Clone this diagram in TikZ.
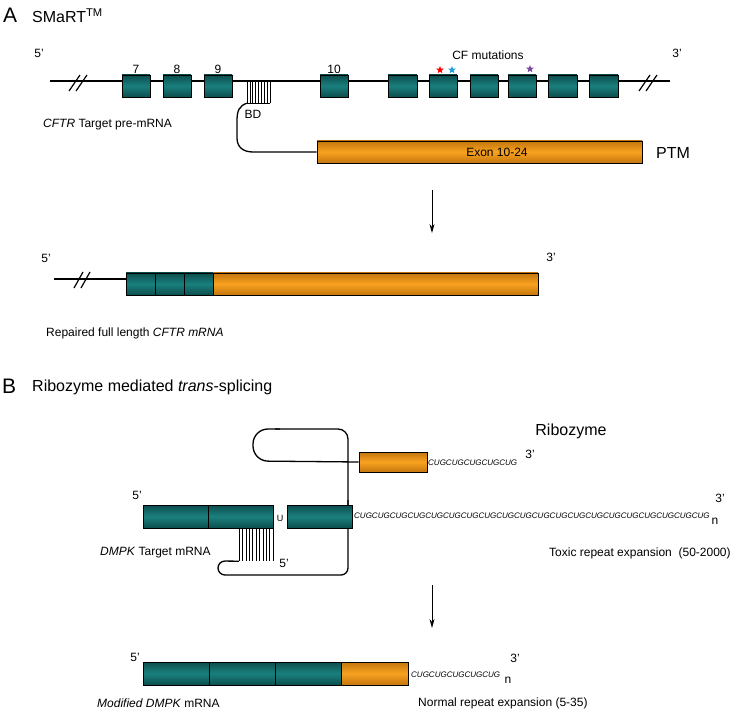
\documentclass[tikz,border=0pt]{standalone}
\usepackage{fontspec}
\setmainfont{Liberation Sans}
\usetikzlibrary{shapes.geometric,arrows.meta}
\definecolor{tealL}{RGB}{26,128,125}
\definecolor{tealD}{RGB}{12,78,78}
\definecolor{orgL}{RGB}{248,162,32}
\definecolor{orgD}{RGB}{196,118,14}
\definecolor{starblue}{RGB}{30,160,220}
\definecolor{starpurple}{RGB}{120,70,160}
\tikzset{
 rna/.style={line width=1.3pt},
 exon/.style={draw=black, line width=0.9pt, top color=tealD, bottom color=tealD, middle color=tealL, inner sep=0pt, minimum height=22pt},
 obox/.style={draw=black, line width=0.9pt, top color=orgD, bottom color=orgD, middle color=orgL, inner sep=0pt},
 lbl/.style={font=\fontsize{12}{14}\selectfont, inner sep=0pt},
 seq/.style={font=\fontsize{8}{9}\selectfont\itshape, inner sep=0pt},
 big/.style={font=\fontsize{16}{18}\selectfont, inner sep=0pt},
 huge/.style={font=\fontsize{21}{24}\selectfont, inner sep=0pt},
 arr/.style={line width=0.8pt, -{Stealth[length=9pt,width=5pt]}},
 slash/.style={line width=1.2pt},
 hatchline/.style={line width=0.6pt},
 mstar/.style={star, star points=5, star point ratio=2.3, inner sep=0pt, minimum size=8pt},
}
\begin{document}
\begin{tikzpicture}[x=1pt,y=-1pt]
\useasboundingbox (0,0) rectangle (734,711);

% ---------------- Panel A ----------------
\node[huge, anchor=west] (hA) at (3,15) {A};
\node[big, anchor=west] (tA) at (32,16) {SMaRT\textsuperscript{TM}};

\node[lbl] (p5a) at (39,53) {5'};
\node[lbl] (p3a) at (677,53) {3'};

\coordinate (l1s) at (50,81);
\coordinate (l1e) at (670,81);
\draw[rna] (l1s) -- (l1e);
\draw[slash] (69,91) -- (80,75);
\draw[slash] (76,91) -- (87,75);
\draw[slash] (639,91) -- (650,75);
\draw[slash] (646,91) -- (657,75);

% hatch BD
\node[inner sep=0pt, minimum width=23pt, minimum height=20pt] (bd) at (258.5,93) {};
\foreach \i in {0,...,8} {\draw[hatchline] ({247+\i*2.875},82) -- ({247+\i*2.875},103);}
\draw[hatchline] (bd.south west) -- (bd.south east);
\node[lbl] (bdl) at (253,114) {BD};

\node[exon, minimum width=28pt] (e7) at (136,86) {};
\node[exon, minimum width=28pt] (e8) at (177,86) {};
\node[exon, minimum width=28pt] (e9) at (218,86) {};
\node[exon, minimum width=28pt] (e10) at (334,86) {};
\node[exon, minimum width=29pt] (e11) at (402.5,86) {};
\node[exon, minimum width=28pt] (e12) at (443,86) {};
\node[exon, minimum width=28pt] (e13) at (484,86) {};
\node[exon, minimum width=28pt] (e14) at (522,86) {};
\node[exon, minimum width=29pt] (e15) at (562.5,86) {};
\node[exon, minimum width=29pt] (e16) at (603.5,86) {};

\node[lbl] (n7) at (136,69) {7};
\node[lbl] (n8) at (177,69) {8};
\node[lbl] (n9) at (218,69) {9};
\node[lbl] (n10) at (334,69) {10};

\node[mstar, fill=red] (s1) at (440,70) {};
\node[mstar, fill=starblue] (s2) at (452,70) {};
\node[mstar, fill=starpurple] (s3) at (530,69) {};
\node[lbl] (cfm) at (488,55) {CF mutations};

\node[lbl, anchor=west] (cftr) at (43,125) {\textit{CFTR} Target pre-mRNA};

\node[obox, minimum width=325pt, minimum height=22pt] (ptm) at (479.5,152) {};
\node[lbl] (ptmt) at (497,152) {Exon 10-24};
\node[big] (ptml) at (673,153) {PTM};

\draw[rna] (bd.south west) .. controls (239,106) and (237,111) .. (237,121) -- (237,138) .. controls (237,147) and (243,152) .. (253,152) -- (ptm.west);

\coordinate (a1s) at (432,190);
\coordinate (a1e) at (432,233);
\draw[arr] (a1s) -- (a1e);

% repaired mRNA
\node[lbl] (r5) at (46,258) {5'};
\node[lbl] (r3) at (551,257) {3'};
\coordinate (r1s) at (54,279);
\node[exon, minimum width=29pt] (rt1) at (140.5,284) {};
\node[exon, minimum width=29pt] (rt2) at (169.5,284) {};
\node[exon, minimum width=29pt] (rt3) at (198.5,284) {};
\node[obox, minimum width=325pt, minimum height=22pt] (ro) at (375.5,284) {};
\draw[rna] (r1s) -- (rt1.west |- r1s);
\draw[slash] (74,288) -- (83,272);
\draw[slash] (81,288) -- (90,272);
\node[lbl, anchor=west] (rep) at (46,333) {Repaired full length \textit{CFTR mRNA}};

% ---------------- Panel B ----------------
\node[huge, anchor=west] (hB) at (2,386) {B};
\node[big, anchor=west] (tB) at (32,387) {Ribozyme mediated \textit{trans}-splicing};

\node[big] (ribl) at (571,431) {Ribozyme};
\node[obox, minimum width=68pt, minimum height=20pt] (rz) at (393,462) {};
\node[seq, anchor=west] (rzs) at (428,463) {CUGCUGCUGCUGCUG};
\node[lbl] (rz3) at (530,454) {3'};

% lower hatch
\node[inner sep=0pt, minimum width=34pt, minimum height=33pt] (bd2) at (256,544.5) {};
\foreach \i in {0,...,10} {\draw[hatchline] ({239+\i*3.4},528) -- ({239+\i*3.4},561);}

% connector loop
\draw[rna, rounded corners=7pt] (bd2.south west) -- (218,561) -- (218,575) -- (348,575) -- (348,500);
\draw[rna, rounded corners=10pt] (348,510) -- (348,429) -- (275,429);
\draw[rna, rounded corners=15pt] (280,429) -- (253,429) -- (253,461) -- (rz.west);

\node[lbl] (b5) at (137,495) {5'};
\node[exon, minimum width=65pt, minimum height=23pt] (bt1) at (175.5,516.5) {};
\node[exon, minimum width=65pt, minimum height=23pt] (bt2) at (240.5,516.5) {};
\node[font=\fontsize{9}{10}\selectfont, inner sep=0pt] (bu) at (280,518) {U};
\node[exon, minimum width=65pt, minimum height=23pt] (bt3) at (319.5,516.5) {};
\node[seq, anchor=west] (tox) at (354,516) {CUGCUGCUGCUGCUGCUGCUGCUGCUGCUGCUGCUGCUGCUGCUGCUGCUGCUGCUGCUG};
\node[lbl] (toxn) at (715,521) {n};
\node[lbl] (tox3) at (720,498) {3'};
\node[lbl] (b55) at (284,563) {5'};
\node[lbl, anchor=west] (dmpk) at (100,553) {\textit{DMPK} Target mRNA};
\node[lbl, anchor=west] (toxl) at (549,553) {Toxic repeat expansion\ \ (50-2000)};

\coordinate (a2s) at (432,585);
\coordinate (a2e) at (432,628);
\draw[arr] (a2s) -- (a2e);

% modified mRNA
\node[lbl] (m5) at (135,657) {5'};
\node[exon, minimum width=66pt, minimum height=23pt] (mt1) at (176,673.5) {};
\node[exon, minimum width=66pt, minimum height=23pt] (mt2) at (242,673.5) {};
\node[exon, minimum width=66pt, minimum height=23pt] (mt3) at (308,673.5) {};
\node[obox, minimum width=67pt, minimum height=23pt] (mo) at (374.5,673.5) {};
\node[seq, anchor=west] (ms) at (411,675) {CUGCUGCUGCUGCUG};
\node[lbl] (mn) at (508,680) {n};
\node[lbl] (m3) at (515,658) {3'};
\node[lbl, anchor=west] (modl) at (97,703) {\textit{Modified DMPK} mRNA};
\node[lbl, anchor=west] (norm) at (418,703) {Normal repeat expansion (5-35)};
\end{tikzpicture}
\end{document}
